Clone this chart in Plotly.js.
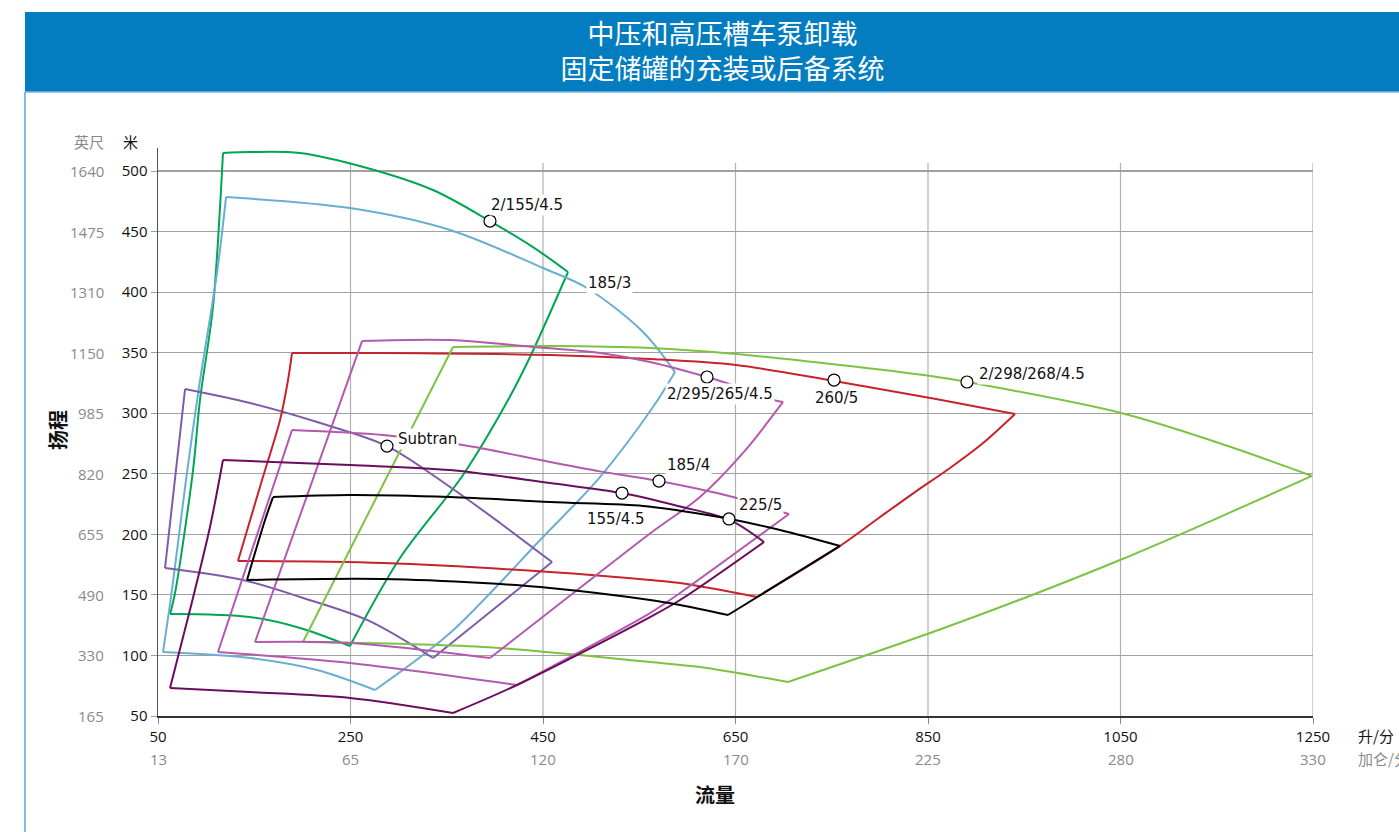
<!DOCTYPE html>
<html>
<head>
<meta charset="utf-8">
<script src="https://cdn.plot.ly/plotly-3.0.1.min.js"></script>
<style>
html,body{margin:0;padding:0;background:#fff;}
#chart{width:1399px;height:832px;}
</style>
</head>
<body>
<div id="chart"></div>
<script>
// ---- Data (flow in L/min, head in m) ----
const meterTicks = [50,100,150,200,250,300,350,400,450,500];
const feetTicks  = ['165','330','490','655','820','985','1150','1310','1475','1640'];
const flowTicks  = [50,250,450,650,850,1050,1250];
const gpmTicks   = ['13','65','120','170','225','280','330'];

// 2/155/4.5 (green)
const g155X = [62.5,67.7,86.4,93.6,107.1,117.5,145.6,197.5,267.2,335.7,394.9,439.6,476.0,436.5,413.7,366.9,301.4,249.5,197.5,145.6,62.5];
const g155Y = [134.2,151.6,253.1,310.9,387.7,514.9,515.7,514.9,502.5,484.3,458.7,437.2,416.6,346.4,310.9,249.0,180.4,107.8,122.7,131.7,134.2];
// 185/3 (light blue)
const b185X = [55.2,64.5,79.1,92.6,111.3,120.7,249.5,353.4,450.0,495.7,553.9,587.2,564.3,509.2,450.0,353.4,275.5,215.2,145.6,55.2];
const b185Y = [102.8,154.0,244.9,321.6,415.8,478.5,469.4,451.3,419.9,403.4,367.1,334.0,305.1,247.3,197.8,118.5,71.5,88.0,97.9,102.8];
// Subtran (purple)
const subX = [57.3,78.1,145.6,215.2,287.9,353.4,405.3,459.4,335.7,267.2,197.5,138.3,57.3];
const subY = [172.2,320.0,308.4,292.7,272.9,239.1,209.4,177.1,97.9,129.3,148.3,162.3,172.2];
// 260/5 (red)
const r260X = [133.1,158.1,176.8,185.1,189.2,283.8,457.3,561.2,650.5,752.4,858.3,940.4,907.2,872.9,836.5,800.2,758.6,672.4,592.4,561.2,457.3,283.8,133.1];
const r260Y = [178.0,244.9,294.4,327.4,349.7,349.7,348.1,344.8,339.8,326.6,311.7,299.4,275.4,254.8,234.9,214.3,190.4,148.3,159.8,162.3,168.9,176.3,178.0];
// 2/298/268/4.5 (light green)
const lg298X = [200.6,356.5,457.3,561.2,650.5,853.1,890.5,1050.6,1152.4,1249.0,1146.1,1049.5,952.9,852.1,704.6,613.1,561.2,387.7,200.6];
const lg298Y = [111.1,354.7,355.5,353.9,348.9,330.7,325.8,300.2,275.4,248.2,211.8,178.8,148.3,118.5,78.1,90.4,94.6,107.0,111.1];
// 2/295/265/4.5 (orchid)
const o295X = [150.8,249.5,262.0,353.4,439.6,509.2,561.2,620.4,642.2,689.0,699.4,657.8,613.1,563.3,474.9,394.9,249.5,150.8];
const o295Y = [111.1,331.6,359.6,360.5,354.7,349.7,342.3,329.9,324.5,310.9,309.3,267.2,230.8,201.9,147.4,97.9,110.3,111.1];
// 185/4 (orchid)
const o185X = [112.3,189.2,283.8,366.9,457.3,509.2,570.5,647.4,698.3,705.6,592.4,561.2,423.0,249.5,112.3];
const o185Y = [102.8,286.1,282.0,273.8,259.7,252.0,244.0,230.8,218.4,216.8,151.6,135.0,75.6,93.8,102.8];
// 155/4.5 (dark purple)
const d155X = [62.5,83.2,104.0,117.5,249.5,353.4,457.3,532.1,592.4,644.3,679.6,592.4,561.2,423.0,356.5,249.5,145.6,62.5];
const d155Y = [73.1,137.5,206.0,261.4,257.2,253.1,242.4,234.1,223.0,211.8,193.7,145.8,131.7,75.6,52.5,64.9,69.8,73.1];
// 225/5 (black)
const k225X = [142.5,161.2,169.5,249.5,353.4,457.3,553.9,592.4,644.3,696.3,758.6,642.2,592.4,561.2,457.3,387.7,283.8,142.5];
const k225Y = [162.3,211.8,230.8,232.5,230.8,226.7,223.5,219.5,212.7,203.6,190.4,133.4,141.6,145.8,155.7,159.8,163.1,162.3];

// duty points (circles)
const pointX = [394.9,620.4,752.4,890.5,287.9,570.5,532.1,643.2];
const pointY = [458.7,329.9,327.4,325.8,272.9,244.0,234.1,212.7];

// curve labels
const labelText = ['2/155/4.5','185/3','2/295/265/4.5','260/5','2/298/268/4.5','Subtran','185/4','155/4.5','225/5'];
const labelX    = [433.4,519.6,633.7,754.5,900.9,330.5,600.7,525.9,675.5];
const labelY    = [471.9,407.5,315.9,312.6,332.4,278.9,257.2,212.7,224.2];
const labelAnchor = ['center','center','center','center','left','center','center','center','center'];

// ---- Build traces ----
// each envelope: corner indices split the outline into smooth sides
const series = [
  {x:g155X, y:g155Y, c:'#00A651', k:[0,5,12,17,20]},
  {x:b185X, y:b185Y, c:'#6AAED2', k:[0,5,11,16,19]},
  {x:subX,  y:subY,  c:'#7D5CAA', k:[0,1,7,8,12]},
  {x:r260X, y:r260Y, c:'#C8232C', k:[0,4,11,17,22]},
  {x:lg298X,y:lg298Y,c:'#7DC243', k:[0,1,9,14,18]},
  {x:o295X, y:o295Y, c:'#B25BAE', k:[0,2,10,15,17]},
  {x:o185X, y:o185Y, c:'#B25BAE', k:[0,1,9,12,14]},
  {x:d155X, y:d155Y, c:'#6B0D5F', k:[0,3,10,14,17]},
  {x:k225X, y:k225Y, c:'#000000', k:[0,2,10,11,17]}
];
const traces = [];
series.forEach(s => {
  for (let j=0; j<s.k.length-1; j++) {
    const a = s.k[j], b = s.k[j+1];
    traces.push({
      type:'scatter', mode:'lines', x:s.x.slice(a,b+1), y:s.y.slice(a,b+1),
      line:{color:s.c, width:2, shape:'spline', smoothing:0.9}, hoverinfo:'skip', showlegend:false
    });
  }
});
traces.push({
  type:'scatter', mode:'markers', x:pointX, y:pointY,
  marker:{size:12, color:'#ffffff', line:{color:'#000', width:1.2}},
  hoverinfo:'skip', showlegend:false
});

const annotations = [];
labelText.forEach((t,i)=>{
  annotations.push({x:labelX[i], y:labelY[i], xref:'x', yref:'y', text:t, showarrow:false,
    xanchor:labelAnchor[i], yanchor:'middle', bgcolor:'#ffffff', borderpad:1,
    font:{family:'DejaVu Sans', size:15, color:'#111'}});
});
feetTicks.forEach((t,i)=>{
  annotations.push({x:-0.045, y:meterTicks[i], xref:'paper', yref:'y', text:t, showarrow:false,
    xanchor:'right', yanchor:'middle', font:{family:'Open Sans', size:15, color:'#8a8a8a'}});
});
gpmTicks.forEach((t,i)=>{
  annotations.push({x:flowTicks[i], y:-0.0757, xref:'x', yref:'paper', text:t, showarrow:false,
    xanchor:'center', yanchor:'middle', font:{family:'Open Sans', size:15, color:'#8a8a8a'}});
});
annotations.push(
  {x:-0.0597, y:1.0123, xref:'paper', yref:'paper', text:'英尺', showarrow:false, xanchor:'center', yanchor:'middle', font:{family:'Noto Sans CJK SC', size:15, color:'#8a8a8a'}},
  {x:-0.0242, y:1.0123, xref:'paper', yref:'paper', text:'米', showarrow:false, xanchor:'center', yanchor:'middle', font:{family:'Noto Sans CJK SC', size:15, color:'#111'}},
  {x:1.0372, y:-0.0335, xref:'paper', yref:'paper', text:'升/分', showarrow:false, xanchor:'left', yanchor:'middle', font:{family:'Noto Sans CJK SC', size:15, color:'#111'}},
  {x:1.0372, y:-0.0757, xref:'paper', yref:'paper', text:'加仑/分', showarrow:false, xanchor:'left', yanchor:'middle', font:{family:'Noto Sans CJK SC', size:15, color:'#8a8a8a'}},
  {x:-0.0874, y:0.5035, xref:'paper', yref:'paper', text:'<b>扬程</b>', textangle:-90, showarrow:false, xanchor:'center', yanchor:'middle', font:{family:'Noto Sans CJK SC', size:20, color:'#111'}},
  {x:0.4823, y:-0.139, xref:'paper', yref:'paper', text:'<b>流量</b>', showarrow:false, xanchor:'center', yanchor:'middle', font:{family:'Noto Sans CJK SC', size:20, color:'#111'}}
);

const shapes = [
  {type:'rect', xref:'paper', yref:'paper', x0:-0.1152, x1:1.1, y0:1.0986, y1:1.2394, fillcolor:'#037DC0', line:{width:0}, layer:'below'},
  {type:'line', xref:'paper', yref:'paper', x0:-0.1152, x1:1.1, y0:1.0986, y1:1.0986, line:{color:'#7DB9E0', width:1.5}},
  {type:'line', xref:'paper', yref:'paper', x0:-0.1152, x1:-0.1152, y0:-0.21, y1:1.0986, line:{color:'#7DB9E0', width:2}}
];
flowTicks.slice(1).forEach(v=>{
  shapes.push({type:'line', xref:'x', yref:'y', x0:v, x1:v, y0:50, y1:506.6, line:{color:'#b0b0b0', width:1.2}, layer:'below'});
});

const layout = {
  width:1399, height:832,
  margin:{l:158, r:86, t:148, b:116},
  paper_bgcolor:'#ffffff', plot_bgcolor:'#ffffff',
  title:{text:'中压和高压槽车泵卸载<br>固定储罐的充装或后备系统', x:0.5165, xref:'container', xanchor:'center', y:0.9471, yref:'container', yanchor:'middle',
    font:{family:'Noto Sans CJK SC', size:27, color:'#ffffff'}},
  xaxis:{range:[50,1250], tickvals:flowTicks, ticktext:flowTicks.map(String), showgrid:false, zeroline:false,
    showline:true, linecolor:'#333', linewidth:1.5, ticks:'outside', ticklen:6, tickcolor:'#888',
    tickfont:{family:'Open Sans', size:15, color:'#111'}},
  yaxis:{range:[50,519], tickvals:meterTicks, ticktext:meterTicks.map(String), showgrid:true, gridcolor:'#a0a0a0', gridwidth:1.2, zeroline:false,
    showline:true, linecolor:'#555', linewidth:1.5, ticks:'outside', ticklen:6, tickcolor:'#a0a0a0',
    tickfont:{family:'Open Sans', size:15, color:'#111'}},
  annotations:annotations,
  shapes:shapes,
  showlegend:false
};

Plotly.newPlot('chart', traces, layout, {displayModeBar:false, staticPlot:true});
</script>
</body>
</html>
